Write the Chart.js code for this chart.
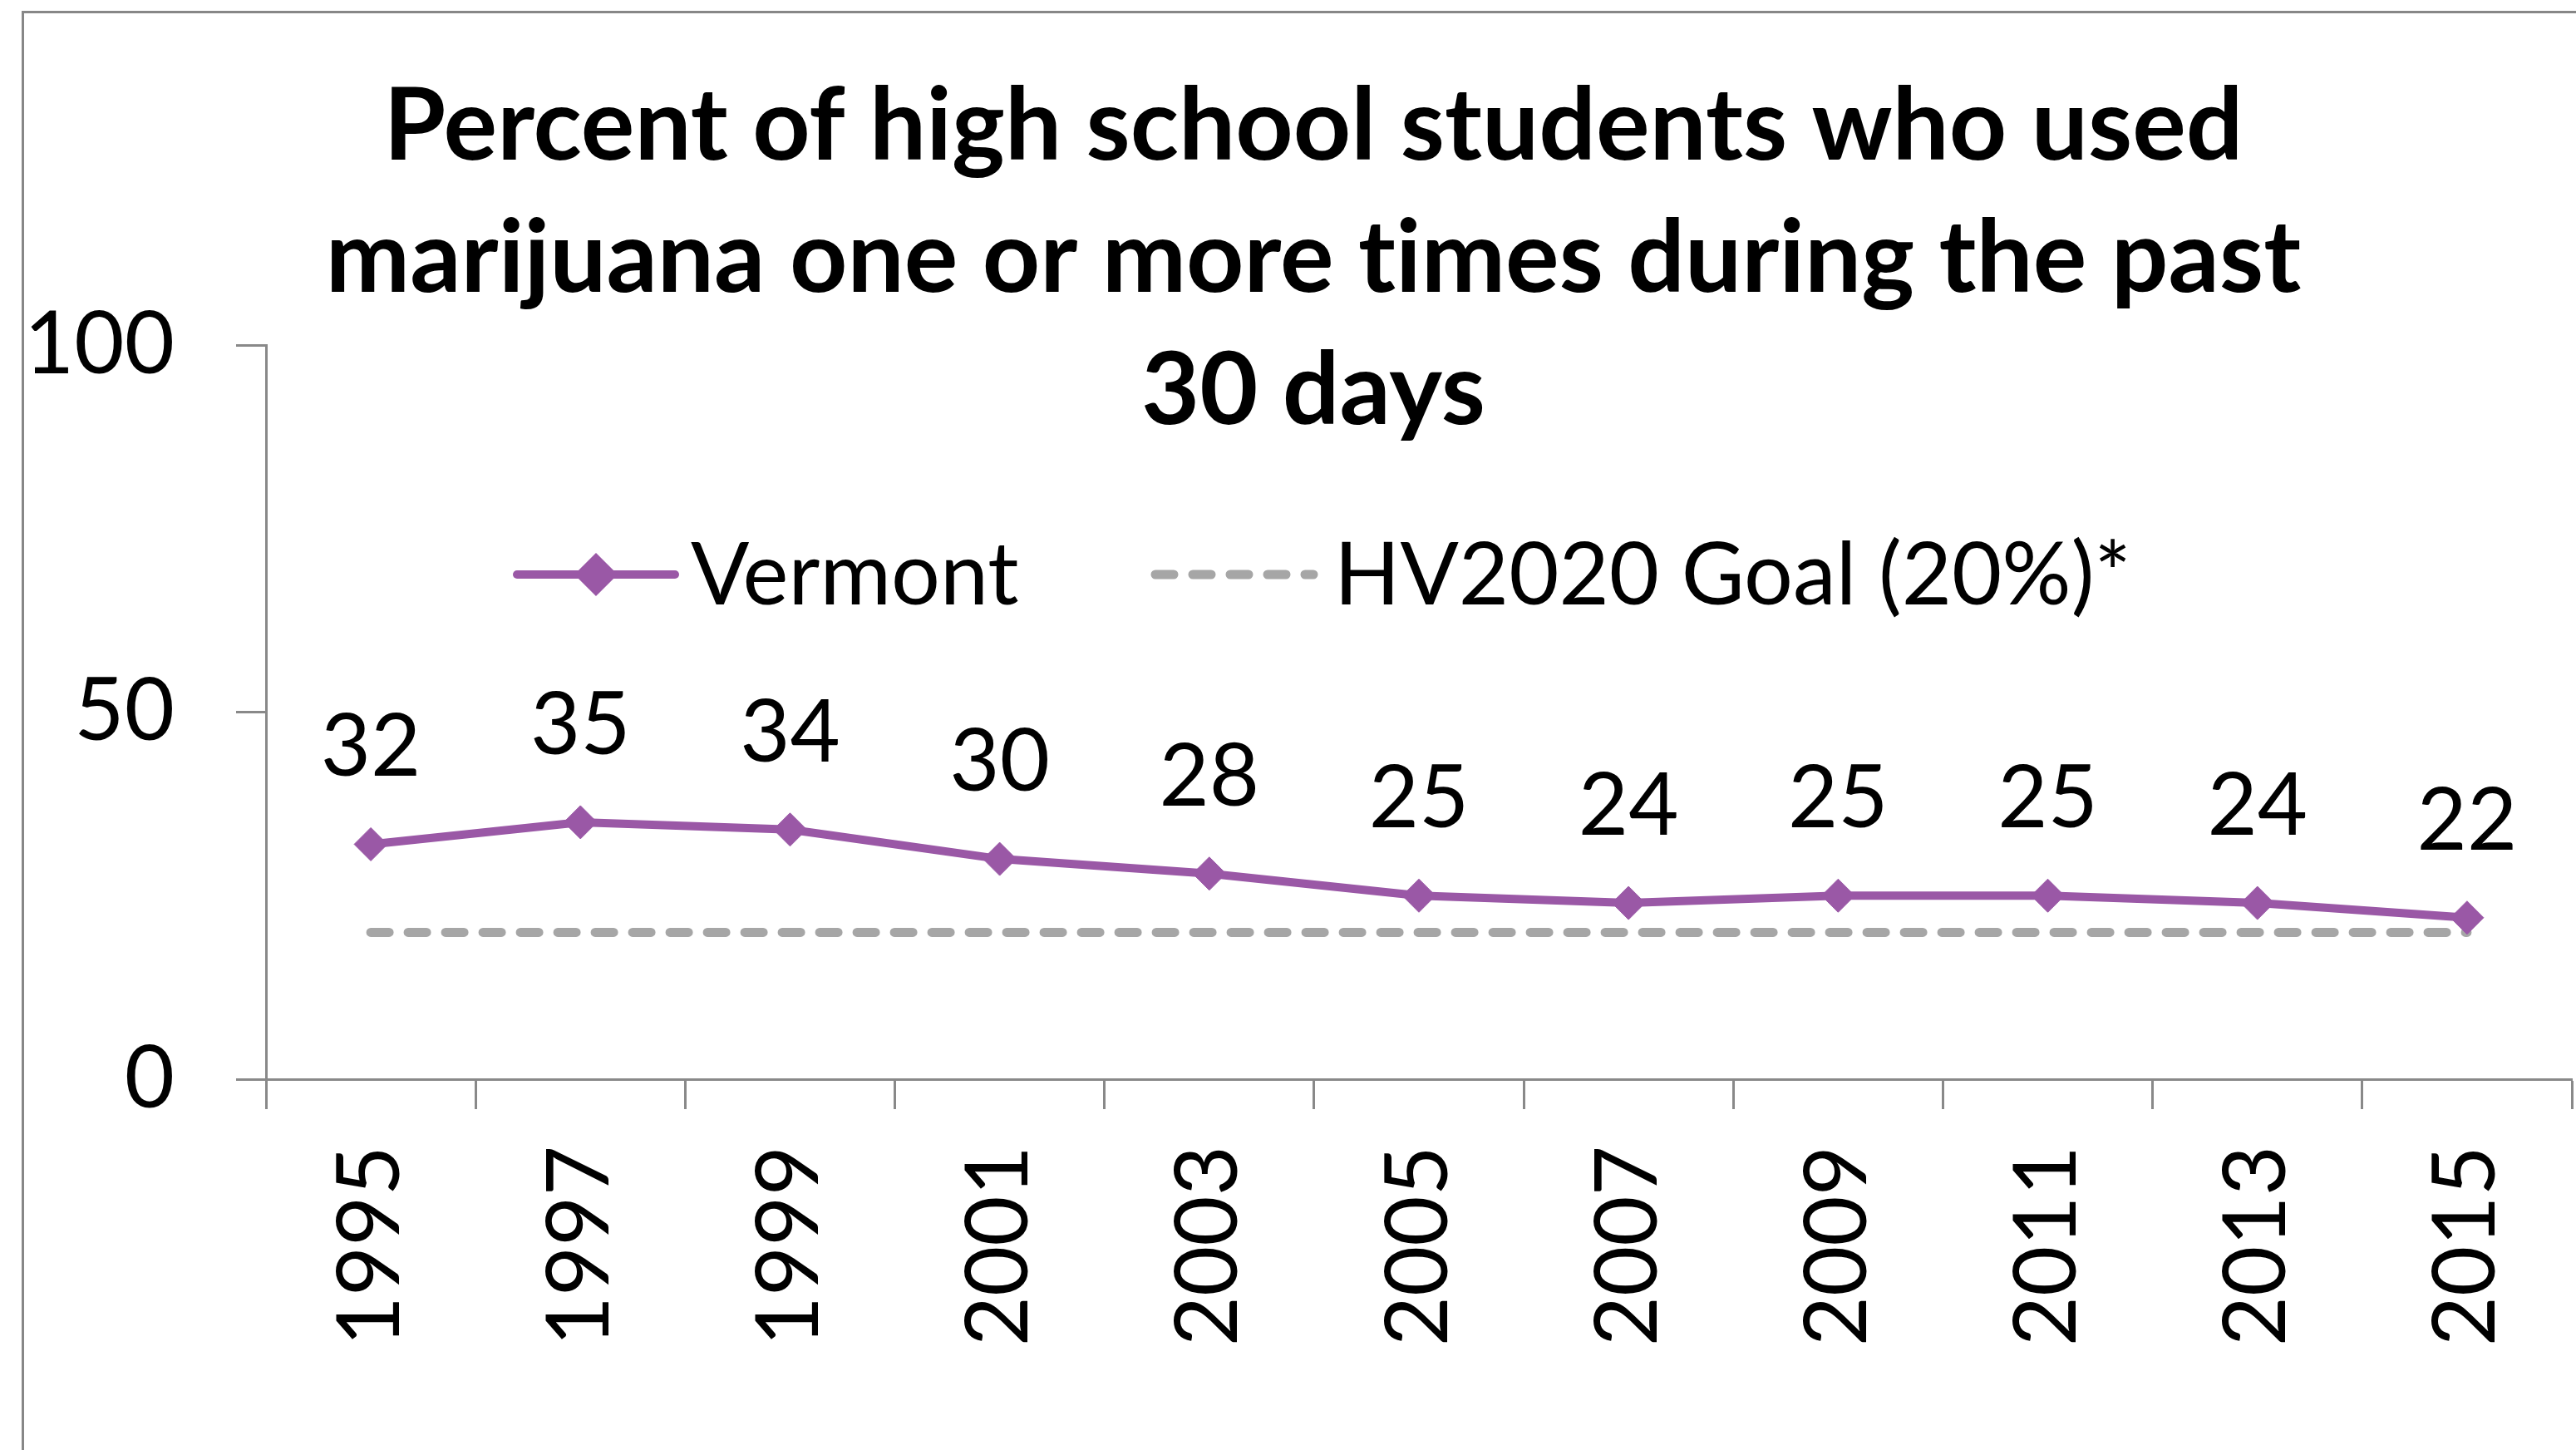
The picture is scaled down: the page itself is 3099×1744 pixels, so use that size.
<!DOCTYPE html>
<html lang="en">
<head>
  <meta charset="UTF-8" />
  <title>Marijuana use - Vermont</title>
  <script src="https://cdn.jsdelivr.net/npm/chart.js"></script>
  <style>
    html, body { margin: 0; padding: 0; background: #fff; overflow: hidden; }
    #wrap { position: relative; width: 3099px; height: 1744px; overflow: hidden; }
    /* chart frame: only top and left edges are visible in the picture */
    #frame {
      position: absolute; left: 26px; top: 13px; right: -20px; bottom: -20px;
      border-left: 3px solid #878787; border-top: 3px solid #878787;
    }
    #chart { position: absolute; left: 0; top: 0; }
  </style>
</head>
<body>
  <div id="wrap">
    <div id="frame"></div>
    <!-- a little wider than the window so the x axis reaches the right edge -->
    <canvas id="chart" width="3115" height="1744"></canvas>
  </div>

  <script>
    const years = ["1995", "1997", "1999", "2001", "2003", "2005", "2007", "2009", "2011", "2013", "2015"];
    const vermont = [32, 35, 34, 30, 28, 25, 24, 25, 25, 24, 22];
    const goal = [20, 20, 20, 20, 20, 20, 20, 20, 20, 20, 20];
    const yTicks = [0, 50, 100];
    const titleLines = [
      "Percent of high school students who used",
      "marijuana one or more times during the past",
      "30 days"
    ];
    const seriesNames = ["Vermont", "HV2020 Goal (20%)*"];

    const purple = "#9a58a6";
    const grey = "#a6a6a6";
    const axisGrey = "#898989";
    const FONT = "Lato, 'Open Sans', sans-serif";

    // three line title, drawn over the plot like the original
    const titlePlugin = {
      id: "bigTitle",
      afterDraw(chart) {
        const ctx = chart.ctx;
        ctx.save();
        ctx.fillStyle = "#000";
        ctx.font = "bold 121px " + FONT;
        ctx.textRendering = "optimizeSpeed"; // no "ti" ligature
        ctx.textAlign = "center";
        ctx.textBaseline = "alphabetic";
        titleLines.forEach((line, i) => {
          ctx.fillText(line, 1580, 192 + i * 159);
        });
        ctx.restore();
      }
    };

    // legend sits inside the plot area, so it is drawn by hand from the dataset styles
    const legendPlugin = {
      id: "insideLegend",
      afterDraw(chart) {
        const ctx = chart.ctx;
        const items = [
          { ds: chart.data.datasets[0], x0: 622, x1: 812, tx: 831 },
          { ds: chart.data.datasets[1], x0: 1390, x1: 1580, tx: 1605 }
        ];
        const y = 691;
        ctx.save();
        items.forEach(it => {
          ctx.beginPath();
          ctx.strokeStyle = it.ds.borderColor;
          ctx.lineWidth = it.ds.borderWidth;
          ctx.lineCap = "round";
          ctx.setLineDash(it.ds.borderDash || []);
          ctx.moveTo(it.x0, y);
          ctx.lineTo(it.x1, y);
          ctx.stroke();
          ctx.setLineDash([]);
          if (it.ds.pointRadius > 0) {
            Chart.helpers.drawPoint(ctx, {
              pointStyle: it.ds.pointStyle,
              radius: 19,
              borderWidth: 1
            }, (it.x0 + it.x1) / 2, y);
            ctx.fillStyle = it.ds.pointBackgroundColor;
            ctx.fill();
          }
          ctx.fillStyle = "#000";
          ctx.font = "104px " + FONT;
          ctx.textAlign = "left";
          ctx.textBaseline = "middle";
          ctx.fillText(it.ds.label, it.tx, y + 2);
        });
        ctx.restore();
      }
    };

    // value labels above the Vermont points
    const valueLabels = {
      id: "valueLabels",
      afterDatasetsDraw(chart) {
        const ctx = chart.ctx;
        const meta = chart.getDatasetMeta(0);
        ctx.save();
        ctx.fillStyle = "#000";
        ctx.font = "104px " + FONT;
        ctx.textAlign = "center";
        ctx.textBaseline = "alphabetic";
        meta.data.forEach((pt, i) => {
          ctx.fillText(String(vermont[i]), pt.x, pt.y - 82);
        });
        ctx.restore();
      }
    };

    function makeChart() {
      const ctx = document.getElementById("chart").getContext("2d");
      new Chart(ctx, {
        type: "line",
        data: {
          labels: years,
          datasets: [
            {
              label: seriesNames[0],
              data: vermont,
              borderColor: purple,
              backgroundColor: purple,
              borderWidth: 10,
              pointStyle: "rectRot",
              pointRadius: 20,
              pointBackgroundColor: purple,
              pointBorderColor: purple,
              pointBorderWidth: 1,
              tension: 0,
              order: 0
            },
            {
              label: seriesNames[1],
              data: goal,
              borderColor: grey,
              borderWidth: 11,
              borderDash: [22, 23],
              borderCapStyle: "round",
              pointRadius: 0,
              tension: 0,
              order: 1
            }
          ]
        },
        options: {
          responsive: false,
          animation: false,
          devicePixelRatio: 1,
          layout: { padding: { top: 415, right: 0, left: 0, bottom: 0 } },
          plugins: {
            legend: { display: false },
            title: { display: false },
            tooltip: { enabled: false }
          },
          scales: {
            x: {
              type: "category",
              offset: true,
              grid: {
                offset: true,
                drawOnChartArea: false,
                drawTicks: true,
                tickLength: 36,
                tickColor: axisGrey,
                tickWidth: 3
              },
              border: { color: axisGrey, width: 3 },
              ticks: {
                autoSkip: false,
                minRotation: 90,
                maxRotation: 90,
                padding: 44,
                color: "#000",
                font: { family: FONT, size: 104 }
              },
              afterFit(scale) {
                scale.height = 446;
                scale.paddingLeft = 0;
                scale.paddingRight = 0;
              }
            },
            y: {
              min: 0,
              max: 100,
              afterBuildTicks(scale) {
                scale.ticks = yTicks.map(v => ({ value: v }));
              },
              grid: {
                drawOnChartArea: false,
                drawTicks: true,
                tickLength: 36,
                tickColor: axisGrey,
                tickWidth: 3
              },
              border: { color: axisGrey, width: 3 },
              ticks: {
                padding: 74,
                color: "#000",
                font: { family: FONT, size: 104 }
              },
              afterFit(scale) { scale.width = 320; }
            }
          }
        },
        plugins: [valueLabels, legendPlugin, titlePlugin]
      });
    }

    Promise.all([
      document.fonts.load("104px Lato"),
      document.fonts.load("bold 121px Lato")
    ]).then(makeChart, makeChart);
  </script>
</body>
</html>
